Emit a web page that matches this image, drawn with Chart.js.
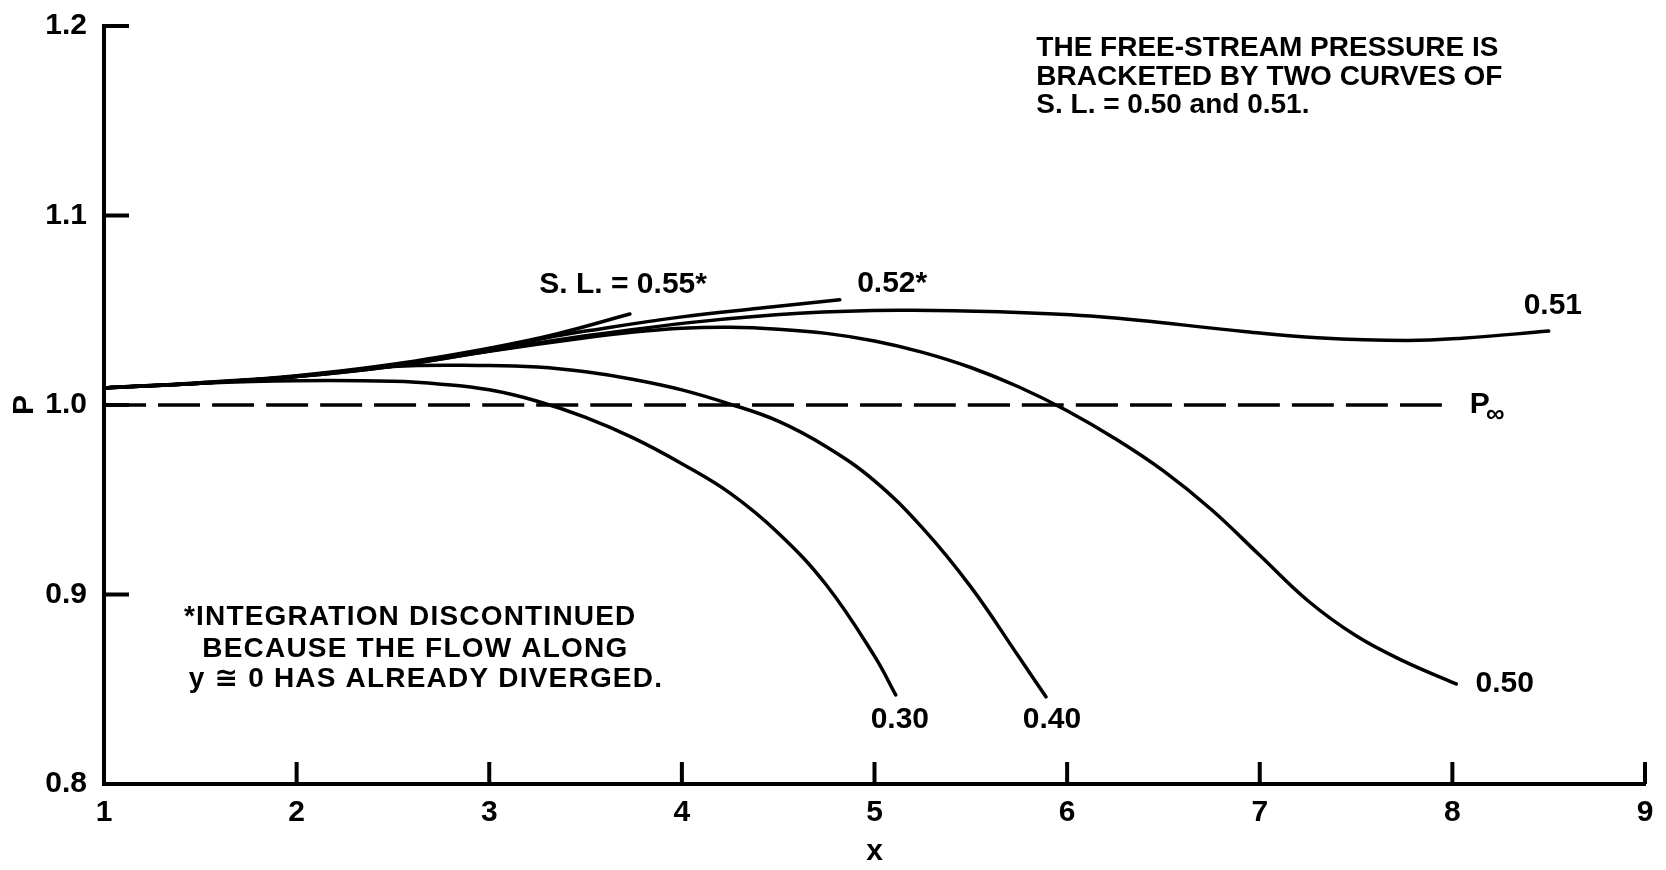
<!DOCTYPE html>
<html>
<head>
<meta charset="utf-8">
<title>Pressure along streamlines</title>
<script src="https://cdn.jsdelivr.net/npm/chart.js@4.4.1/dist/chart.umd.min.js"></script>
<style>
  html, body { margin: 0; padding: 0; background: #fff; }
  canvas { display: block; }
</style>
</head>
<body>
<canvas id="pressureChart" width="1666" height="870"></canvas>
<script>
// pressure P along each streamline (S. L.) versus x
const sl30X = [1, 1.5, 2, 2.5, 2.75, 3.0, 3.25, 3.5, 3.75, 4.0, 4.25, 4.5, 4.75, 5.0, 5.11];
const sl30P = [1.009, 1.0115, 1.0128, 1.0125, 1.011, 1.008, 1.002, 0.9935, 0.9825, 0.969, 0.9535, 0.9325, 0.905, 0.8675, 0.847];

const sl40X = [1, 1.5, 2, 2.5, 3.0, 3.25, 3.5, 3.75, 4.0, 4.25, 4.5, 4.75, 5.0, 5.25, 5.5, 5.75, 5.89];
const sl40P = [1.009, 1.0115, 1.015, 1.0203, 1.0208, 1.020, 1.0175, 1.0135, 1.008, 1.0005, 0.9915, 0.978, 0.960, 0.935, 0.904, 0.867, 0.846];

const sl50X = [1, 1.5, 2, 2.5, 3, 3.5, 3.75, 4.0, 4.25, 4.5, 4.75, 5.0, 5.25, 5.5, 5.75, 6.0, 6.25, 6.5, 6.75, 7.0, 7.25, 7.5, 7.75, 8.02];
const sl50P = [1.009, 1.0115, 1.015, 1.0205, 1.0283, 1.0355, 1.0385, 1.0405, 1.041, 1.040, 1.0378, 1.0338, 1.0278, 1.0198, 1.0095, 0.997, 0.9822, 0.9652, 0.9447, 0.9207, 0.8967, 0.8782, 0.8647, 0.8528];

const sl51X = [1, 1.5, 2, 2.5, 3, 3.5, 4.09, 4.61, 5.13, 5.65, 6.17, 6.93, 7.3, 7.76, 8.05, 8.5];
const sl51P = [1.009, 1.0115, 1.015, 1.0205, 1.0285, 1.0365, 1.044, 1.0484, 1.050, 1.0492, 1.0466, 1.0387, 1.0355, 1.034, 1.0352, 1.039];

const sl52X = [1, 1.5, 2, 2.5, 3, 3.3, 3.5, 4, 4.4, 4.82];
const sl52P = [1.009, 1.0115, 1.0152, 1.021, 1.029, 1.0355, 1.039, 1.0465, 1.051, 1.0555];

const sl55X = [1, 1.5, 2, 2.5, 3, 3.35, 3.73];
const sl55P = [1.009, 1.0118, 1.0155, 1.0215, 1.030, 1.0375, 1.048];

// free-stream pressure line
const pInfX = [1, 8];
const pInfP = [1.0, 1.0];

const xTicks = [1, 2, 3, 4, 5, 6, 7, 8, 9];
const yTicks = [0.8, 0.9, 1.0, 1.1, 1.2];

const FONT = "'Liberation Sans', Arial, 'DejaVu Sans', sans-serif";

function points(xs, ys) {
    return xs.map((v, i) => ({ x: v, y: ys[i] }));
}

function curve(xs, ys) {
    return {
        data: points(xs, ys),
        showLine: true,
        borderColor: '#000',
        borderWidth: 3.5,
        borderCapStyle: 'round',
        pointRadius: 0,
        tension: 0.4,
        fill: false
    };
}

// short inward tick marks on both axes
const innerTicks = {
    id: 'innerTicks',
    afterDraw(chart) {
        const { ctx, chartArea, scales: { x, y } } = chart;
        ctx.save();
        ctx.strokeStyle = '#000';
        ctx.lineWidth = 4;
        ctx.beginPath();
        yTicks.slice(1).forEach(v => {
            const py = y.getPixelForValue(v);
            ctx.moveTo(chartArea.left, py);
            ctx.lineTo(chartArea.left + 25, py);
        });
        xTicks.slice(1).forEach(v => {
            const px = x.getPixelForValue(v);
            ctx.moveTo(px, chartArea.bottom);
            ctx.lineTo(px, chartArea.bottom - 22);
        });
        ctx.stroke();
        ctx.restore();
    }
};

// curve labels and notes
const notes = {
    id: 'notes',
    afterDraw(chart) {
        const { ctx, scales: { x, y } } = chart;
        const put = (text, xv, yv) => ctx.fillText(text, x.getPixelForValue(xv), y.getPixelForValue(yv));
        ctx.save();
        ctx.fillStyle = '#000';
        ctx.textAlign = 'left';
        ctx.textBaseline = 'middle';

        ctx.font = 'bold 30px ' + FONT;
        put('S. L. = 0.55*', 3.26, 1.0633);
        put('0.52*', 4.91, 1.0639);
        put('0.51', 8.37, 1.0522);
        put('0.30', 4.98, 0.834);
        put('0.40', 5.77, 0.834);
        put('0.50', 8.12, 0.853);
        put('P', 8.09, 1.0);

        ctx.font = 'bold 28px ' + FONT;
        put('THE FREE-STREAM PRESSURE IS', 5.84, 1.188);
        put('BRACKETED BY TWO CURVES OF', 5.84, 1.173);
        put('S. L. = 0.50 and 0.51.', 5.84, 1.158);

        ctx.letterSpacing = '1.2px';
        put('*INTEGRATION DISCONTINUED', 1.415, 0.888);
        put('BECAUSE THE FLOW ALONG', 1.51, 0.871);
        put('y \u2245 0 HAS ALREADY DIVERGED.', 1.44, 0.855);
        ctx.letterSpacing = '0px';

        ctx.font = 'bold 26px ' + FONT;
        put('\u221E', 8.175, 0.995);
        ctx.restore();
    }
};

const ctx = document.getElementById('pressureChart').getContext('2d');

new Chart(ctx, {
    type: 'scatter',
    data: {
        datasets: [
            curve(sl30X, sl30P),
            curve(sl40X, sl40P),
            curve(sl50X, sl50P),
            curve(sl51X, sl51P),
            curve(sl52X, sl52P),
            curve(sl55X, sl55P),
            Object.assign(curve(pInfX, pInfP), { borderDash: [42, 12], borderCapStyle: 'butt' })
        ]
    },
    options: {
        responsive: false,
        animation: false,
        layout: { padding: { top: 26, right: 21, left: 0, bottom: 0 } },
        plugins: {
            legend: { display: false },
            tooltip: { enabled: false }
        },
        scales: {
            x: {
                type: 'linear',
                min: 1,
                max: 9,
                grid: { display: false, drawTicks: false },
                border: { display: true, color: '#000', width: 4 },
                afterBuildTicks: s => { s.ticks = xTicks.map(v => ({ value: v })); },
                afterFit: s => { s.height = 86; s.paddingLeft = 0; s.paddingRight = 0; },
                ticks: {
                    color: '#000',
                    padding: 11,
                    autoSkip: false,
                    maxRotation: 0,
                    font: { family: FONT, size: 30, weight: 'bold' },
                    callback: v => String(v)
                },
                title: {
                    display: true,
                    text: 'x',
                    color: '#000',
                    padding: { top: 0, bottom: 0 },
                    font: { family: FONT, size: 30, weight: 'bold' }
                }
            },
            y: {
                type: 'linear',
                min: 0.8,
                max: 1.2,
                grid: { display: false, drawTicks: false },
                border: { display: true, color: '#000', width: 4 },
                afterBuildTicks: s => { s.ticks = yTicks.map(v => ({ value: v })); },
                afterFit: s => { s.width = 104; s.paddingTop = 0; s.paddingBottom = 0; },
                ticks: {
                    color: '#000',
                    padding: 17,
                    autoSkip: false,
                    font: { family: FONT, size: 30, weight: 'bold' },
                    callback: v => v.toFixed(1)
                },
                title: {
                    display: true,
                    text: 'P',
                    color: '#000',
                    padding: { top: 7, bottom: 0 },
                    font: { family: FONT, size: 30, weight: 'bold' }
                }
            }
        }
    },
    plugins: [innerTicks, notes]
});
</script>
</body>
</html>
